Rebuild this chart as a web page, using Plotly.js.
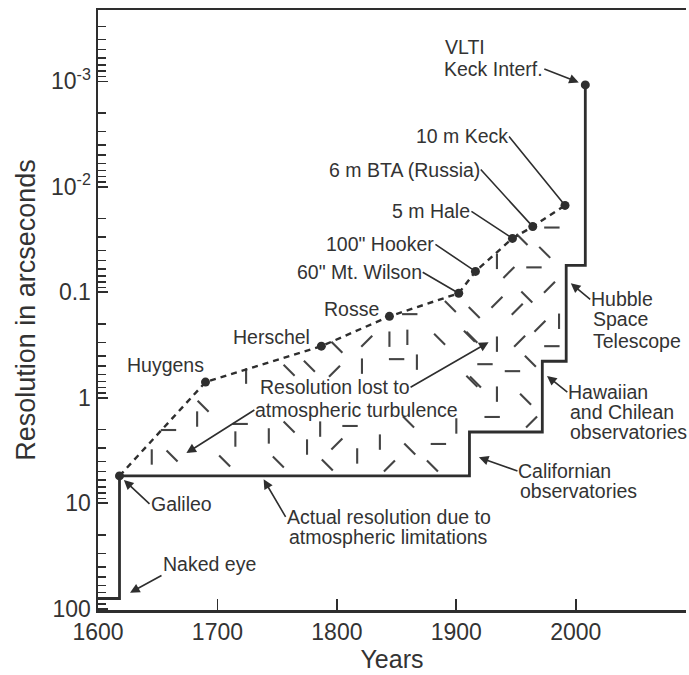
<!DOCTYPE html>
<html><head><meta charset="utf-8">
<script src="https://cdn.plot.ly/plotly-3.0.1.min.js"></script>
<style>html,body{margin:0;padding:0;background:#fff}#chart{width:689px;height:675px}</style>
</head><body><div id="chart"></div>
<script>
// ---- data ----
const telescopeNames = ['Galileo','Huygens','Herschel','Rosse','60" Mt. Wilson','100" Hooker','5 m Hale','6 m BTA (Russia)','10 m Keck','VLTI / Keck Interf.'];
const telescopeYears = [1618, 1690, 1787, 1844, 1902, 1916, 1947, 1964, 1991, 2008];
const telescopeRes   = [5.5, 0.71, 0.324, 0.169, 0.102, 0.0633, 0.0308, 0.0238, 0.0150, 0.00108];

const actualYears = [1600, 1618, 1911, 1972, 1992, 2008];
const actualRes   = [80, 5.5, 2.11, 0.45, 0.0556, 0.00108];

const hatchYears = [1645,1662,1659,1683,1688,1706,1719,1724,1760,1777,1743,1760,1775,1751,1792,1715,
  1800,1825,1844,1859,1886,1913,1861,1798,1821,1850,1867,1913,1786,1811,1860,1900,1817,1836,1800,1861,1885,1844,1880,
  1980,1955,1974,1934,1944,1965,1978,1959,1895,1915,1934,1951,1986,1970,1911,1934,1953,1980,1924,1947,1962,1916,1934,1958,1930,1963];
const hatchRes = [3.64,3.56,2.02,1.59,1.20,3.97,1.77,0.623,0.547,0.501,2.30,1.89,2.93,4.06,4.33,2.46,
  0.331,0.291,0.278,0.267,0.278,0.267,0.161,0.559,0.501,0.430,0.459,0.695,1.98,1.85,1.70,1.85,3.56,2.63,2.74,3.06,2.74,4.43,4.43,
  0.0243,0.0315,0.0418,0.0509,0.0647,0.058,0.0897,0.111,0.136,0.155,0.124,0.145,0.188,0.210,0.261,0.310,0.291,0.324,0.480,0.559,0.450,0.710,0.923,1.03,1.52,1.70];
const hatchDir = ['|','\\','-','|','\\','\\','-','|','\\','\\','|','\\','|','\\','\\','|',
  '\\','/','|','|','\\','\\','-','/','|','-','|','\\','|','-','\\','|','|','|','/','\\','-','/','\\',
  '-','\\','\\','|','/','-','/','\\','\\','\\','/','/','|','/','\\','|','/','-','-','-','\\','\\','|','\\','-','/'];

const yTickVals = [0.001, 0.01, 0.1, 1, 10, 100];
const yTickText = ['10<sup>-3</sup>','10<sup>-2</sup>','0.1','1','10','100'];
const xTickVals = [1600, 1700, 1800, 1900, 2000];

// ---- style ----
const INK = '#2e2e2e';
const FONT = 'Liberation Sans, Arial, Helvetica, sans-serif';
const symMap = {'|':'line-ns-open','-':'line-ew-open','/':'line-ne-open','\\':'line-nw-open'};

const traces = [
  { // turbulence hatching
    x: hatchYears, y: hatchRes, mode: 'markers', type: 'scatter', hoverinfo: 'skip',
    marker: { symbol: hatchDir.map(d => symMap[d]), size: 11, color: '#444', line: { width: 2.1, color: '#444' } }
  },
  { // theoretical resolution (dashed)
    x: telescopeYears.slice(0, 9), y: telescopeRes.slice(0, 9), mode: 'lines', type: 'scatter',
    line: { color: INK, width: 2.4, dash: '6px,5px' }
  },
  { // actual resolution (step)
    x: actualYears, y: actualRes, mode: 'lines', type: 'scatter',
    line: { color: INK, width: 2.8, shape: 'hv' }
  },
  { // telescope dots
    x: telescopeYears, y: telescopeRes, mode: 'markers', type: 'scatter',
    marker: { color: INK, size: 9 }
  }
];

const L = Math.log10;
const tf = { family: FONT, size: 19.5, color: '#333' };
function arrowAnn(text, x, y, ax, ay, xanchor, yanchor, head, standoff) {
  return { text, x, y: L(y), xref: 'x', yref: 'y', showarrow: true, ax, ay, axref: 'pixel', ayref: 'pixel',
    xanchor, yanchor: yanchor || 'middle', arrowhead: head, arrowsize: 1.2, arrowwidth: 1.6, arrowcolor: INK,
    standoff: standoff || 0, font: tf, borderpad: 0 };
}
function textAnn(text, x, y, xs, ys, xanchor) {
  return { text, x, y: L(y), xref: 'x', yref: 'y', showarrow: false, xshift: xs, yshift: ys,
    xanchor: xanchor || 'left', yanchor: 'middle', font: tf, borderpad: 0 };
}
const T = i => [telescopeYears[i], telescopeRes[i]];

const annotations = [
  textAnn('VLTI', ...T(9), -141, 38, 'left'),
  arrowAnn('Keck Interf.', ...T(9), -41, -16, 'right', 'middle', 2, 7),
  arrowAnn('10 m Keck', ...T(8), -56, -69, 'right', 'middle', 0, 4),
  arrowAnn('6 m BTA (Russia)', ...T(7), -52, -57, 'right', 'middle', 0, 4),
  arrowAnn('5 m Hale', ...T(6), -41, -27, 'right', 'middle', 0, 4),
  arrowAnn('100" Hooker', ...T(5), -40, -27, 'right', 'middle', 0, 4),
  arrowAnn('60" Mt. Wilson', ...T(4), -36, -21, 'right', 'middle', 0, 4),
  textAnn('Rosse', ...T(3), -38, 7, 'center'),
  textAnn('Herschel', ...T(2), -50, 9, 'center'),
  textAnn('Huygens', ...T(1), -40, 17, 'center'),
  arrowAnn('Galileo', ...T(0), 30, 28, 'left', 'middle', 2, 6),
  arrowAnn('Naked eye', actualYears[1], actualRes[0], 42, -23, 'left', 'bottom', 2, 12),
  arrowAnn('Actual resolution due to', 1737, actualRes[1], 24, 41, 'left', 'middle', 2, 4),
  textAnn('atmospheric limitations', 1737, actualRes[1], 26, -61, 'left'),
  arrowAnn('Resolution lost to', 1927, 0.297, -78, 45, 'right', 'middle', 2, 0),
  arrowAnn('atmospheric turbulence', 1674, 3.34, 68, -43, 'left', 'middle', 2, 0),
  arrowAnn('Californian', 1911, 3.41, 48, 17, 'left', 'middle', 2, 10),
  textAnn('observatories', 1911, 3.41, 50, -37, 'left'),
  arrowAnn('Hawaiian', 1972, 0.571, 25, 20, 'left', 'middle', 2, 6),
  textAnn('and Chilean', 1972, 0.571, 27, -40, 'left'),
  textAnn('observatories', 1972, 0.571, 27, -60, 'left'),
  arrowAnn('Hubble', 1992, 0.0753, 24, 20, 'left', 'middle', 2, 6),
  textAnn('Space', 1992, 0.0753, 26, -40, 'left'),
  textAnn('Telescope', 1992, 0.0753, 26, -62, 'left')
];

const layout = {
  width: 689, height: 675,
  margin: { l: 98, r: 3, t: 10, b: 65 },
  paper_bgcolor: '#fff', plot_bgcolor: '#fff',
  showlegend: false,
  font: { family: FONT, color: '#333' },
  xaxis: {
    range: [1600, 2092.3], showgrid: false, zeroline: false,
    showline: true, linecolor: INK, linewidth: 2.5, mirror: true,
    tickmode: 'array', tickvals: xTickVals, ticks: 'inside', ticklen: 11, tickwidth: 1.8, tickcolor: INK,
    tickfont: { family: FONT, size: 23, color: '#333' },
    title: { text: 'Years', font: { family: FONT, size: 25, color: '#333' }, standoff: 6 }
  },
  yaxis: {
    type: 'log', range: [2.012, -3.677], showgrid: false, zeroline: false,
    showline: true, linecolor: INK, linewidth: 2.5,
    tickmode: 'array', tickvals: yTickVals, ticktext: yTickText,
    ticks: 'inside', ticklen: 10, tickwidth: 1.8, tickcolor: INK,
    minor: { ticks: 'inside', ticklen: 8, tickwidth: 1.5, tickcolor: INK, dtick: 'D1', showgrid: false },
    tickfont: { family: FONT, size: 23, color: '#333' },
    title: { text: 'Resolution in arcseconds', font: { family: FONT, size: 27, color: '#333' }, standoff: 8 }
  },
  annotations
};

Plotly.newPlot('chart', traces, layout, { displayModeBar: false, staticPlot: true });
</script></body></html>
